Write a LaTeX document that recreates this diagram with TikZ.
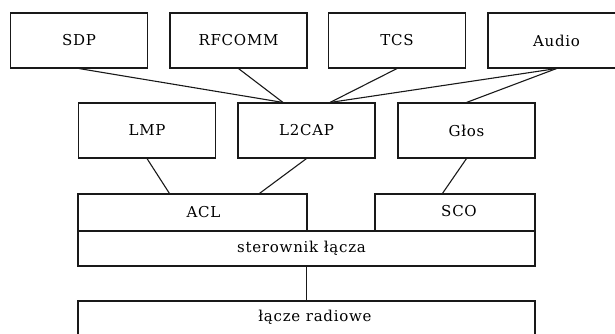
\documentclass[tikz,border=0pt]{standalone}
\usepackage{fontspec}
\setmainfont{DejaVu Serif}[LetterSpace=5]
\usepackage{tikz}

\tikzset{
  layer/.style={draw=black!90, rectangle, inner sep=0pt, minimum width=137pt, minimum height=55pt},
  link/.style={draw=black!90, line width=1.1pt}
}

\begin{document}
\begin{tikzpicture}[x=1pt, y=-1pt, line width=1.1pt, font=\fontsize{15}{18}\selectfont, text=black]
        \useasboundingbox (0,0) rectangle (615,333);
        \clip (0,0) rectangle (615,333);

        % upper protocols
        \node[layer] (sdp) at (79,40.5) {SDP};
        \node[layer] (rfcomm) at (238.5,40.5) {RFCOMM};
        \node[layer] (tcs) at (397,40.5) {TCS};
        \node[layer] (audio) at (556.5,40.5) {Audio};

        \node[layer] (lmp) at (147,130.5) {LMP};
        \node[layer] (l2cap) at (306.5,130.5) {L2CAP};
        \node[layer] (glos) at (466.5,130.5) {Głos};

        % link layers
        \node[layer, minimum width=229pt, minimum height=37pt] (acl) at (192.5,212.5) {};
        \node (acltext) at ([xshift=11pt]acl.center) {ACL};
        \node[layer, minimum width=160pt, minimum height=37pt] (sco) at (455,212.5) {};
        \node (scotext) at ([xshift=4pt,yshift=1pt]sco.center) {SCO};
        \node[layer, minimum width=457pt, minimum height=35pt] (ster) at (306.5,248.5) {};
        \node (stertext) at ([xshift=-5pt]ster.center) {sterownik łącza};
        \node[layer, minimum width=457pt, minimum height=50pt] (radio) at (306.5,326) {};
        \node (radiotext) at (315,317) {łącze radiowe};

        \coordinate (l2capL) at ([xshift=-23.5pt]l2cap.north);
        \coordinate (l2capR) at ([xshift=23.5pt]l2cap.north);
        \coordinate (aclA) at ([xshift=92pt]acl.north west);
        \coordinate (aclB) at ([xshift=182pt]acl.north west);
        \coordinate (scoA) at ([xshift=68pt]sco.north west);

        \draw[link] (sdp.south) -- (l2capL);
        \draw[link] (rfcomm.south) -- (l2capL);
        \draw[link] (tcs.south) -- (l2capR);
        \draw[link] (audio.south) -- (l2capR);
        \draw[link] (audio.south) -- (glos.north);

        \draw[link] (lmp.south) -- (aclA);
        \draw[link] (l2cap.south) -- (aclB);
        \draw[link] (glos.south) -- (scoA);
        \draw[link] (ster.south) -- (radio.north);
    \end{tikzpicture}
\end{document}
